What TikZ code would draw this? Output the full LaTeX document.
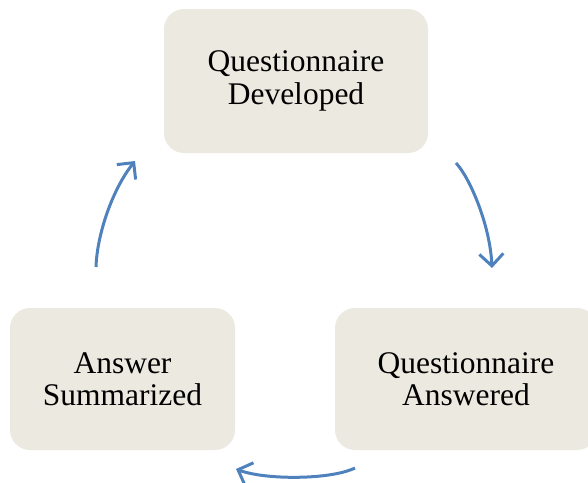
\documentclass[tikz,border=0pt]{standalone}
\usepackage{fontspec}
\setmainfont{Liberation Serif}
\usetikzlibrary{arrows.meta}
\definecolor{boxfill}{HTML}{ECEAE0}
\definecolor{cycleblue}{HTML}{4F81BD}
\tikzset{
  stagebox/.style={rectangle, rounded corners=20pt, fill=boxfill, draw=none,
    inner sep=0pt, align=center,
    font=\fontsize{31.5pt}{32.5pt}\selectfont},
  cyclearrow/.style={draw=cycleblue, line width=3pt,
    -{Straight Barb[length=12pt, width=24pt, line width=3pt]}}
}
\begin{document}
\begin{tikzpicture}[x=1pt, y=-1pt]
  \useasboundingbox (0,0) rectangle (588,482);
  % stages of the cycle
  \node[stagebox, minimum width=264pt, minimum height=144pt] (dev) at (296,81)
    {Questionnaire\\Developed};
  \node[stagebox, minimum width=262pt, minimum height=142pt] (ans) at (466,379)
    {Questionnaire\\Answered};
  \node[stagebox, minimum width=225pt, minimum height=142pt] (sum) at (122.5,379)
    {Answer\\Summarized};
  % free ends of the curved arrows
  \coordinate (a1s) at (456,163);
  \coordinate (a1e) at (492,268);
  \coordinate (a2s) at (355,468);
  \coordinate (a2e) at (236,469);
  \coordinate (a3s) at (96,267);
  \coordinate (a3e) at (135,161);
  % arrows around the cycle
  \draw[cyclearrow] (a1s) .. controls (470,178) and (490,225) .. (a1e);
  \draw[cyclearrow] (a2s) .. controls (330,480) and (265,480) .. (a2e);
  \draw[cyclearrow] (a3s) .. controls (97,235) and (112,190) .. (a3e);
\end{tikzpicture}
\end{document}
